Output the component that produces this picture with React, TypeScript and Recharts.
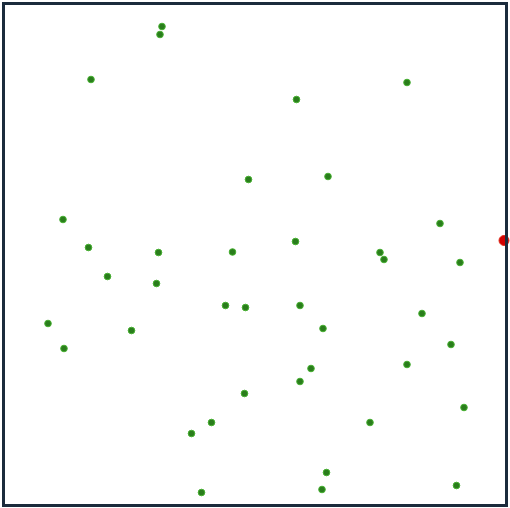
import React from "react";
import { ScatterChart, Scatter, XAxis, YAxis } from "recharts";

const greenX = [31.6, 31.2, 17.4, 48.9, 11.8, 16.9, 30.9, 45.7, 80.6, 58.5, 64.8, 87.2, 58.3, 75.2, 20.7, 30.5, 44.3, 48.3, 8.8, 25.5, 12.0, 48.1, 41.5, 37.5, 39.5, 76.0, 91.2, 59.2, 83.6, 63.8, 89.4, 80.6, 61.4, 59.2, 92.0, 73.2, 64.5, 90.5, 63.6];
const greenY = [95.5, 93.9, 84.9, 64.9, 56.9, 51.3, 50.3, 50.4, 84.3, 80.9, 65.5, 56.1, 52.5, 50.3, 45.5, 44.1, 39.7, 39.3, 36.1, 34.7, 31.1, 22.1, 16.3, 14.1, 2.3, 48.9, 48.3, 39.7, 38.1, 35.1, 31.9, 27.9, 27.1, 24.5, 19.3, 16.3, 6.3, 3.7, 2.9];
const redX = [100];
const redY = [52.7];

const greenData = greenX.map((x, i) => ({ x, y: greenY[i] }));
const redData = redX.map((x, i) => ({ x, y: redY[i] }));

const GreenDot = (props: any) => (
  <circle cx={props.cx} cy={props.cy} r={3.3} fill="#2a7d1c" stroke="#46b030" strokeWidth={1} />
);
const RedDot = (props: any) => (
  <circle cx={props.cx} cy={props.cy} r={5} fill="#d00000" stroke="#e03020" strokeWidth={1} />
);

export default function App() {
  return (
    <div style={{ position: "absolute", left: 0, top: 0, width: 510, height: 508, background: "#fff" }}>
      <ScatterChart width={510} height={508} margin={{ top: 4, right: 6, bottom: 4, left: 4 }}>
        <XAxis type="number" dataKey="x" domain={[0, 100]} hide />
        <YAxis type="number" dataKey="y" domain={[0, 100]} hide />
        <Scatter data={greenData} shape={GreenDot} isAnimationActive={false} />
        <Scatter data={redData} shape={RedDot} isAnimationActive={false} />
      </ScatterChart>
      <div
        style={{
          position: "absolute",
          left: 2,
          top: 2,
          width: 500,
          height: 499,
          border: "3px solid #1b2b3c",
          pointerEvents: "none",
        }}
      />
    </div>
  );
}
